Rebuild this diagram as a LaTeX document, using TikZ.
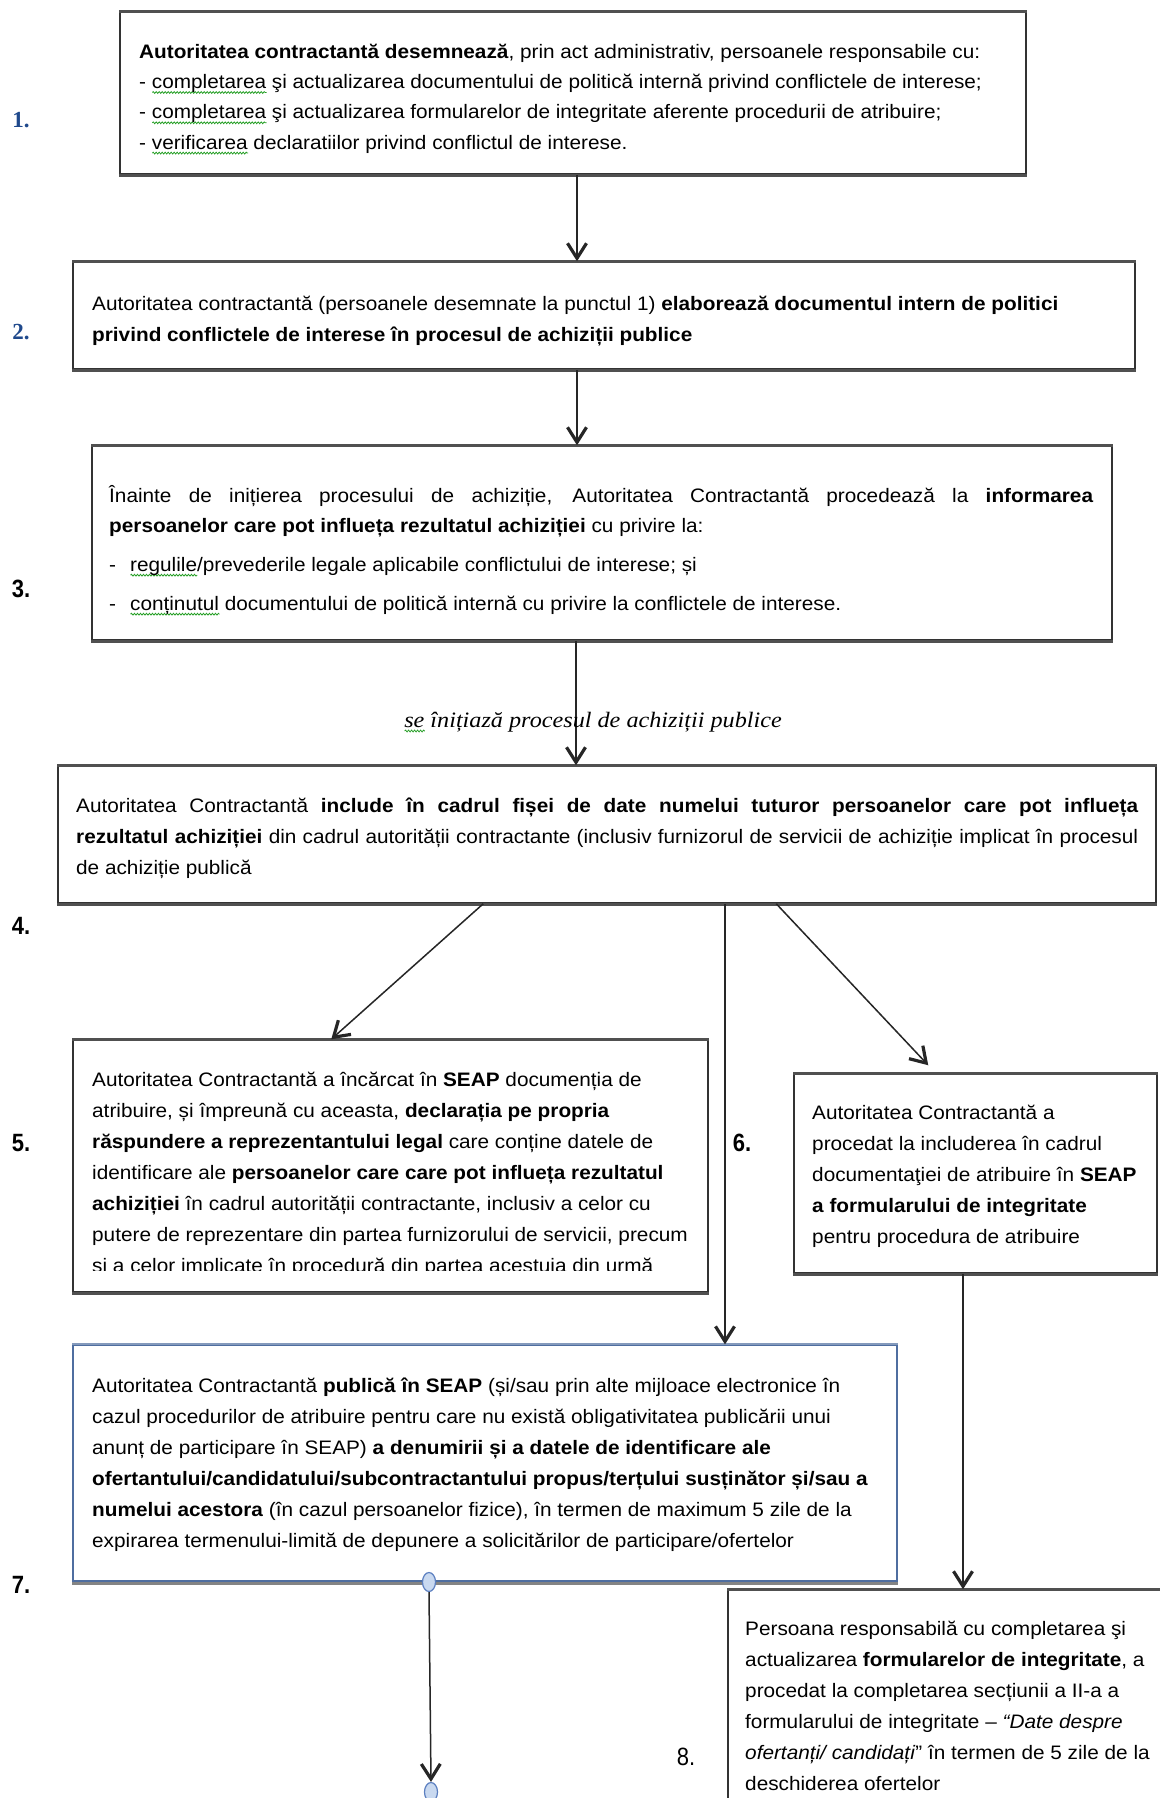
\documentclass[tikz,border=0pt]{standalone}
\usepackage{fontspec}
\setmainfont{Liberation Sans}[FakeStretch=1.065]
\newfontfamily\numsans{Liberation Sans}[FakeStretch=0.88]
\newfontfamily\numserif{Liberation Serif}
\newfontfamily\noteserif{Liberation Serif}[FakeStretch=1.1]
\usetikzlibrary{arrows.meta,shapes.geometric,calc,decorations.pathmorphing}

\definecolor{numblue}{RGB}{31,73,140}
\definecolor{edgegray}{RGB}{80,80,80}
\definecolor{frameblue}{RGB}{79,110,160}
\definecolor{dotfill}{RGB}{201,217,240}
\definecolor{dotline}{RGB}{91,127,192}
\definecolor{squig}{RGB}{40,160,40}

% green wavy underline, as left by a spell checker
\newsavebox\sqbox
\newcommand\sqw[1]{\sbox\sqbox{#1}\rlap{\tikz[baseline=0pt]\draw[squig, line width=0.8pt,
  decorate, decoration={snake, amplitude=0.9pt, segment length=3pt}]
  (0pt,-4pt) -- (\wd\sqbox,-4pt);}\usebox\sqbox}

\newcommand\bodyfont{\fontsize{19.5}{31}\selectfont}
\newcommand\firstln{\rule{0pt}{25pt}}

\tikzset{
  frame/.style={draw=black!80, line width=1.5pt, inner sep=0pt, fill=white},
  shade edge/.style={draw=edgegray, line width=3pt},
  txt/.style={anchor=north west, inner sep=0pt, align=left, font=\bodyfont},
  numlbl/.style={inner sep=0pt, font=\fontsize{25}{28}\selectfont\numsans\bfseries},
  bluenum/.style={inner sep=0pt, text=numblue, font=\fontsize{23}{26}\selectfont\numserif\bfseries},
  arr/.style={draw=black!85, line width=1.5pt,
    -{Straight Barb[length=15pt,width=19pt,line width=3.2pt]}},
  dot/.style={ellipse, draw=dotline, fill=dotfill, line width=1.2pt,
    minimum width=13pt, minimum height=19pt, inner sep=0pt},
}

\begin{document}
\begin{tikzpicture}[x=1pt,y=-1pt]
\fill[white] (0,0) rectangle (1159,1798);
\useasboundingbox (0,0) rectangle (1159,1798);

% ---- boxes ----
\node[frame, minimum width=906pt, minimum height=162pt]  (b1) at (573,93) {};
\node[frame, minimum width=1062pt, minimum height=107pt] (b2) at (604,315.5) {};
\node[frame, minimum width=1020pt, minimum height=194pt] (b3) at (602,543) {};
\node[frame, minimum width=1098pt, minimum height=137pt] (b4) at (607,834.5) {};
\node[frame, minimum width=635pt, minimum height=252pt]  (b5) at (390.5,1166) {};
\node[frame, minimum width=363pt, minimum height=199pt]  (b6) at (975.5,1173.5) {};
\node[frame, draw=frameblue, line width=1.3pt, minimum width=824pt, minimum height=236pt] (b7) at (485,1463) {};
\node[frame, minimum width=452pt, minimum height=240pt]  (b8) at (954,1710) {};

\foreach \b in {b1,b2,b3,b4,b5,b6} {
  \draw[shade edge] (\b.north west) -- (\b.north east);
  \draw[shade edge] ([yshift=-0.8pt]\b.south west) -- ([yshift=-0.8pt]\b.south east);
}
\draw[shade edge] (b8.north west) -- (b8.north east);
\draw[draw=edgegray!70, line width=2.6pt] ([yshift=-1.6pt]b7.south west) -- ([yshift=-1.6pt]b7.south east);
\draw[frameblue, line width=1.2pt] (b7.south west) -- (b7.south east);
\draw[frameblue!70, line width=2pt] (b7.north west) -- (b7.north east);

% ---- step numbers ----
\node[bluenum] (n1) at (21,120) {1.};
\node[bluenum] (n2) at (21,332) {2.};
\node[numlbl] (n3) at (21,589) {3.};
\node[numlbl] (n4) at (21,926) {4.};
\node[numlbl] (n5) at (21,1143) {5.};
\node[numlbl] (n6) at (742,1143) {6.};
\node[numlbl] (n7) at (21,1585) {7.};
\node[numlbl, font=\fontsize{25}{28}\selectfont\numsans] (n8) at (686,1757) {8.};

% ---- box texts ----
\node[txt, font=\fontsize{19.5}{30.3}\selectfont] (t1) at (139,33) {\firstln\textbf{Autoritatea contractantă desemnează}, prin act administrativ, persoanele responsabile cu:\\
- \sqw{completarea} şi actualizarea documentului de politică internă privind conflictele de interese;\\
- \sqw{completarea} şi actualizarea formularelor de integritate aferente procedurii de atribuire;\\
- \sqw{verificarea} declaratiilor privind conflictul de interese.};

\node[txt] (t2) at (92,285) {\firstln Autoritatea contractantă (persoanele desemnate la punctul 1) \textbf{elaborează documentul intern de politici}\\
\textbf{privind conflictele de interese în procesul de achiziții publice}};

\node[txt, font=\fontsize{19.5}{30}\selectfont] (t3) at (109,477) {\firstln\makebox[984pt][s]{Înainte de inițierea procesului de achiziție, Autoritatea Contractantă procedează la \textbf{informarea}}\\
\textbf{persoanelor care pot influeța rezultatul achiziției} cu privire la:\\[9pt]
-\hspace{14pt}\sqw{regulile}/prevederile legale aplicabile conflictului de interese; și\\[9pt]
-\hspace{14pt}\sqw{conținutul} documentului de politică internă cu privire la conflictele de interese.};

\node[txt] (t4) at (76,787) {\firstln\makebox[1062pt][s]{Autoritatea Contractantă \textbf{include în cadrul fișei de date numelui tuturor persoanelor care pot influeța}}\\
\makebox[1062pt][s]{\textbf{rezultatul achiziției} din cadrul autorității contractante (inclusiv furnizorul de servicii de achiziție implicat în procesul}\\
de achiziție publică};

\begin{scope}
\clip (73,1040) rectangle (708,1270);
\node[txt] (t5) at (92,1061) {\firstln Autoritatea Contractantă a încărcat în \textbf{SEAP} documenția de\\
atribuire, și împreună cu aceasta, \textbf{declarația pe propria}\\
\textbf{răspundere a reprezentantului legal} care conține datele de\\
identificare ale \textbf{persoanelor care care pot influeța rezultatul}\\
\textbf{achiziției} în cadrul autorității contractante, inclusiv a celor cu\\
putere de reprezentare din partea furnizorului de servicii, precum\\
si a celor implicate în procedură din partea acestuia din urmă};
\end{scope}

\node[txt] (t6) at (812,1094) {\firstln Autoritatea Contractantă a\\
procedat la includerea în cadrul\\
documentaţiei de atribuire în \textbf{SEAP}\\
\textbf{a formularului de integritate}\\
pentru procedura de atribuire};

\node[txt] (t7) at (92,1367) {\firstln Autoritatea Contractantă \textbf{publică în SEAP} (și/sau prin alte mijloace electronice în\\
cazul procedurilor de atribuire pentru care nu există obligativitatea publicării unui\\
anunț de participare în SEAP) \textbf{a denumirii și a datele de identificare ale}\\
\textbf{ofertantului/candidatului/subcontractantului propus/terțului susținător și/sau a}\\
\textbf{numelui acestora} (în cazul persoanelor fizice), în termen de maximum 5 zile de la\\
expirarea termenului-limită de depunere a solicitărilor de participare/ofertelor};

\node[txt] (t8) at (745,1610) {\firstln Persoana responsabilă cu completarea şi\\
actualizarea \textbf{formularelor de integritate}, a\\
procedat la completarea secțiunii a II-a a\\
formularului de integritate – \textit{“Date despre}\\
\textit{ofertanți/ candidați}” în termen de 5 zile de la\\
deschiderea ofertelor};

% ---- connectors ----
\coordinate (ax) at (577,0);
\coordinate (bx) at (576,0);
\coordinate (mx) at (725,0);
\coordinate (rx) at (963,0);
\draw[arr] (b1.south -| ax) -- (b2.north -| ax);
\draw[arr] (b2.south -| ax) -- (b3.north -| ax);
\draw[arr] (b3.south -| bx) -- (b4.north -| bx);
\node[inner sep=0pt, font=\fontsize{22}{26}\selectfont\noteserif\itshape] (note) at (593,722) {\sqw{se} înițiază procesul de achiziții publice};

\coordinate (o5) at ([xshift=426pt]b4.south west);
\coordinate (i5) at ([xshift=259pt]b5.north west);
\coordinate (o6) at ([xshift=719pt]b4.south west);
\coordinate (i6) at ([xshift=135pt,yshift=8pt]b6.north west);
\draw[arr] (o5) -- (i5);
\draw[arr] (b4.south -| mx) -- (b7.north -| mx);
\draw[arr] (o6) -- (i6);
\draw[arr] (b6.south -| rx) -- (b8.north -| rx);

\node[dot] (k1) at (429,1582) {};
\node[dot] (k2) at (431,1792) {};
\draw[arr] (k1.south) -- (k2.north);
\end{tikzpicture}
\end{document}
